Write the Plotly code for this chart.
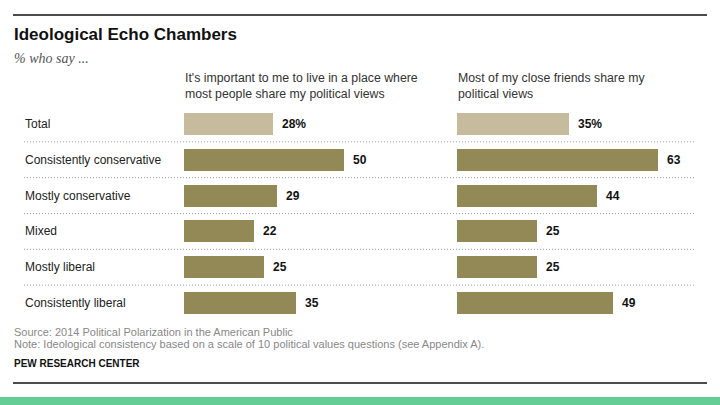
import plotly.graph_objects as go

categories = ["Total", "Consistently conservative", "Mostly conservative",
              "Mixed", "Mostly liberal", "Consistently liberal"]
live_place = [28, 50, 29, 22, 25, 35]
close_friends = [35, 63, 44, 25, 25, 49]
headers = ["It's important to me to live in a place where<br>most people share my political views",
           "Most of my close friends share my<br>political views"]

W, H = 720, 405
LIGHT = "#C6BC9D"
DARK = "#928957"
colors = [LIGHT] + [DARK] * (len(categories) - 1)

def px(x):
    return x / W

def py(y):
    return 1 - y / H

fig = go.Figure()
fig.add_trace(go.Bar(y=categories, x=live_place, orientation="h",
                     marker=dict(color=colors, line=dict(width=0)),
                     width=0.61, xaxis="x", yaxis="y", hoverinfo="skip"))
fig.add_trace(go.Bar(y=categories, x=close_friends, orientation="h",
                     marker=dict(color=colors, line=dict(width=0)),
                     width=0.61, xaxis="x2", yaxis="y", hoverinfo="skip"))

scale = 3.19  # px per unit
x1_start, x2_start = 184, 457
r1, r2 = 55, 75
ydom = [py(321), py(106)]

fig.update_layout(
    width=W, height=H,
    margin=dict(l=0, r=0, t=0, b=0),
    paper_bgcolor="white", plot_bgcolor="rgba(0,0,0,0)",
    showlegend=False,
    bargap=0,
    xaxis=dict(domain=[px(x1_start), px(x1_start + r1 * scale)], range=[0, r1],
               visible=False, fixedrange=True),
    xaxis2=dict(domain=[px(x2_start), px(x2_start + r2 * scale)], range=[0, r2],
                visible=False, fixedrange=True),
    yaxis=dict(domain=ydom, categoryorder="array", categoryarray=categories,
               range=[len(categories) - 0.5, -0.5], visible=False, fixedrange=True),
    font=dict(family="Liberation Sans, Arial, sans-serif"),
)

shapes = []
shapes.append(dict(type="line", xref="paper", yref="paper", x0=px(13), x1=px(707),
                   y0=py(15), y1=py(15), line=dict(color="#111", width=1.5)))
shapes.append(dict(type="line", xref="paper", yref="paper", x0=px(13), x1=px(707),
                   y0=py(383), y1=py(383), line=dict(color="#111", width=1.5)))
shapes.append(dict(type="rect", xref="paper", yref="paper", x0=0, x1=1,
                   y0=0, y1=py(397), fillcolor="#63CD95", line=dict(width=0)))
for i in range(len(categories) - 1):
    shapes.append(dict(type="line", xref="paper", yref="y", x0=px(24), x1=px(695),
                       y0=i + 0.5, y1=i + 0.5,
                       line=dict(color="#A0A0A0", width=1, dash="1px,2px")))

annotations = []
annotations.append(dict(text="<b>Ideological Echo Chambers</b>", x=px(12), y=py(35),
                        xref="paper", yref="paper", xanchor="left", yanchor="middle",
                        showarrow=False,
                        font=dict(size=17, color="#111", family="Liberation Sans, Arial")))
annotations.append(dict(text="<i>% who say ...</i>", x=px(12), y=py(58),
                        xref="paper", yref="paper", xanchor="left", yanchor="middle",
                        showarrow=False,
                        font=dict(size=14, color="#555", family="Liberation Serif, Georgia, serif")))
for hx, htxt in zip([x1_start - 1, x2_start - 1], headers):
    annotations.append(dict(text=htxt, x=px(hx), y=py(86), xref="paper", yref="paper",
                            xanchor="left", yanchor="middle", align="left", showarrow=False,
                            font=dict(size=12.3, color="#333")))
for i, c in enumerate(categories):
    annotations.append(dict(text=c, x=px(23), y=c, xref="paper", yref="y",
                            xanchor="left", yanchor="middle", showarrow=False,
                            font=dict(size=12, color="#222")))
for i, (a, b) in enumerate(zip(live_place, close_friends)):
    sfx = "%" if i == 0 else ""
    annotations.append(dict(text=f"<b>{a}{sfx}</b>", x=a, y=categories[i], xref="x", yref="y",
                            xanchor="left", yanchor="middle", xshift=7, showarrow=False,
                            font=dict(size=12, color="#111")))
    annotations.append(dict(text=f"<b>{b}{sfx}</b>", x=b, y=categories[i], xref="x2", yref="y",
                            xanchor="left", yanchor="middle", xshift=7, showarrow=False,
                            font=dict(size=12, color="#111")))
annotations.append(dict(text="Source: 2014 Political Polarization in the American Public",
                        x=px(12), y=py(332), xref="paper", yref="paper", xanchor="left",
                        yanchor="middle", showarrow=False, font=dict(size=11, color="#888")))
annotations.append(dict(text="Note: Ideological consistency based on a scale of 10 political values questions (see Appendix A).",
                        x=px(12), y=py(344), xref="paper", yref="paper", xanchor="left",
                        yanchor="middle", showarrow=False, font=dict(size=11, color="#888")))
annotations.append(dict(text="<b>PEW RESEARCH CENTER</b>",
                        x=px(12), y=py(363), xref="paper", yref="paper", xanchor="left",
                        yanchor="middle", showarrow=False, font=dict(size=10, color="#111")))

fig.update_layout(shapes=shapes, annotations=annotations)
fig.write_html("out.html", config={"displayModeBar": False, "staticPlot": True},
               post_script="document.body.style.margin='0';document.body.style.padding='0';")
